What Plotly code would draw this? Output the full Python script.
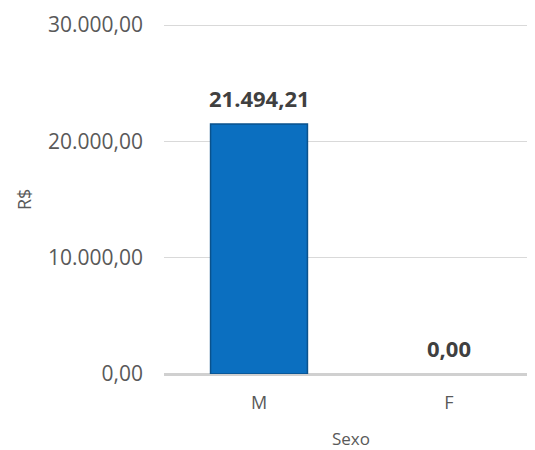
import plotly.graph_objects as go

categories = ["M", "F"]
values = [21494.21, 0.0]
y_ticks = [0, 10000, 20000, 30000]

FONT = "Open Sans"

# the page body adds an 8px offset, so the figure is 8px smaller each way
W, H = 527, 442
L, R, T, B = 156, 0, 15, 76
plot_w, plot_h = W - L - R, H - T - B
SPAN_PX = 349  # pixels between 0 and 30000

fig = go.Figure()
fig.add_trace(go.Bar(
    x=categories, y=values, width=0.51,
    marker=dict(color="#0B6FC0",
                line=dict(color="#0A528C", width=[1.5 if v > 0 else 0 for v in values])),
    hoverinfo="skip",
))


def br(v):
    return f"{v:,.2f}".replace(",", "X").replace(".", ",").replace("X", ".")


for c, v in zip(categories, values):
    fig.add_annotation(
        x=c, y=v, xref="x", yref="y",
        text="<b>" + br(v) + "</b>",
        showarrow=False, yshift=26, yanchor="middle", xanchor="center",
        font=dict(family=FONT, size=22, color="#404040"),
    )

fig.add_annotation(x=(16 - L) / plot_w, y=(T + plot_h - 192) / plot_h, xref="paper", yref="paper",
                   text="R$", textangle=-90, showarrow=False,
                   xanchor="center", yanchor="middle",
                   font=dict(family=FONT, size=18, color="#595959"))
fig.add_annotation(x=(343 - L) / plot_w, y=(T + plot_h - 430) / plot_h, xref="paper", yref="paper",
                   text="Sexo", showarrow=False, borderpad=0,
                   xanchor="center", yanchor="middle",
                   font=dict(family=FONT, size=17, color="#595959"))

fig.update_layout(
    width=W, height=H,
    margin=dict(l=L, r=R, t=T, b=B, autoexpand=False),
    paper_bgcolor="white", plot_bgcolor="white",
    separators=",.",
    showlegend=False,
    font=dict(family=FONT, color="#595959"),
    xaxis=dict(
        range=[-0.5, -0.5 + plot_w / 190],
        showgrid=False, showline=False, zeroline=False, automargin=False,
        ticks="", tickfont=dict(size=18, color="#595959"),
        ticklabelstandoff=16,
    ),
    yaxis=dict(
        range=[0, 30000 * plot_h / SPAN_PX], tickvals=y_ticks, tickformat=",.2f",
        showgrid=True, gridcolor="#D9D9D9", gridwidth=1.3,
        zeroline=True, zerolinecolor="#D0D0D0", zerolinewidth=2.5,
        showline=False, ticks="", automargin=False,
        tickfont=dict(size=21, color="#595959"),
        ticklabelstandoff=20,
    ),
)

fig.write_html("out.html")
